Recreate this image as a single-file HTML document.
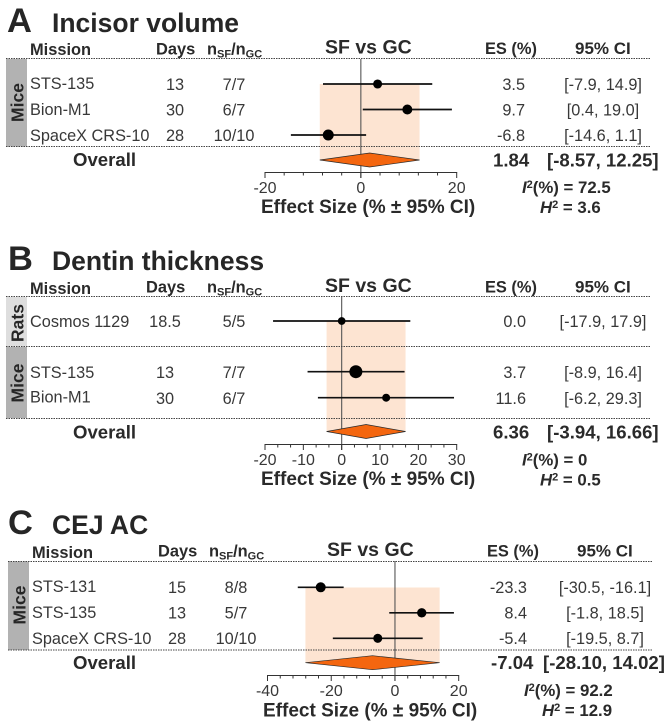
<!DOCTYPE html>
<html lang="en">
<head>
<meta charset="utf-8">
<title>Forest plots: incisor volume, dentin thickness, CEJ AC</title>
<style>
html,body{margin:0;padding:0;background:#fff;width:670px;height:728px;overflow:hidden}
svg{display:block;font-family:"Liberation Sans",Arial,sans-serif;filter:blur(0.3px)}
.title{font-weight:700;font-size:26.5px;fill:#262626}
.letter{font-weight:700;font-size:34.5px;fill:#262626}
.h{font-weight:700;font-size:16.4px;fill:#2a2a2a}
.cih{font-weight:700;font-size:17px;fill:#2a2a2a}
.sf{font-weight:700;font-size:19.5px;fill:#2a2a2a}
.r{font-size:16.3px;fill:#383838}
.m{text-anchor:middle}
.e{text-anchor:end}
.ov{font-weight:700;font-size:18.6px;fill:#2a2a2a}
.axt{font-weight:700;font-size:19px;fill:#2a2a2a}
.ax{font-size:16px;fill:#383838;text-anchor:middle}
.stat{font-weight:700;font-size:16.8px;fill:#2a2a2a}
.grp{font-weight:700;font-size:17.5px;fill:#262626;text-anchor:middle}
.sub{font-size:11px}
</style>
</head>
<body>
<svg id="figure" xmlns="http://www.w3.org/2000/svg" width="670" height="728" viewBox="0 0 670 728">
  <rect x="0" y="0" width="670" height="728" fill="#fff"/>

  <!-- group bands -->
  <rect x="6" y="59" width="21" height="87.5" fill="#b2b2b2"/>
  <rect x="6" y="297" width="21" height="49.5" fill="#dedede"/>
  <rect x="6" y="347" width="21" height="71" fill="#b2b2b2"/>
  <rect x="8" y="561.5" width="21" height="88.5" fill="#b2b2b2"/>

  <g id="marks-layer"></g>

  <!-- Panel A -->
  <text class="letter" x="7" y="32">A</text>
  <text class="title" x="52" y="32">Incisor volume</text>
  <text class="h" x="30" y="55">Mission</text>
  <text class="h" x="156" y="54.5">Days</text>
  <text class="h" x="207" y="54.5">n<tspan class="sub" dy="3">SF</tspan><tspan dy="-3">/n</tspan><tspan class="sub" dy="3">GC</tspan></text>
  <text class="sf" x="325" y="53.5">SF vs GC</text>
  <text class="h" x="485" y="54">ES (%)</text>
  <text class="cih" x="575" y="54">95% CI</text>
  <text class="grp" transform="translate(23.5,102.5) rotate(-90)">Mice</text>
  <text class="r" x="30" y="89">STS-135</text>
  <text class="r m" x="175" y="90">13</text>
  <text class="r m" x="234" y="90">7/7</text>
  <text class="r e" x="525" y="90">3.5</text>
  <text class="r m" x="603" y="90">[-7.9, 14.9]</text>
  <text class="r" x="30" y="115">Bion-M1</text>
  <text class="r m" x="175" y="115.5">30</text>
  <text class="r m" x="234" y="115.5">6/7</text>
  <text class="r e" x="525" y="115.5">9.7</text>
  <text class="r m" x="603" y="115.5">[0.4, 19.0]</text>
  <text class="r" x="30" y="141">SpaceX CRS-10</text>
  <text class="r m" x="175" y="141">28</text>
  <text class="r m" x="234" y="141">10/10</text>
  <text class="r e" x="525" y="141">-6.8</text>
  <text class="r m" x="603" y="141">[-14.6, 1.1]</text>
  <text class="ov" x="73" y="166">Overall</text>
  <text class="ov" x="493" y="166.5">1.84</text>
  <text class="ov" x="547" y="166.5">[-8.57, 12.25]</text>
  <text class="axt" x="261" y="213">Effect Size (% ± 95% CI)</text>
  <text class="stat" x="522" y="193"><tspan font-style="italic">I</tspan><tspan class="sub" dy="-5">2</tspan><tspan dy="5">(%) = 72.5</tspan></text>
  <text class="stat" x="540" y="213"><tspan font-style="italic">H</tspan><tspan class="sub" dy="-5">2</tspan><tspan dy="5"> = 3.6</tspan></text>

  <!-- Panel B -->
  <text class="letter" x="8" y="270">B</text>
  <text class="title" x="52" y="270">Dentin thickness</text>
  <text class="h" x="30" y="294">Mission</text>
  <text class="h" x="146" y="292.5">Days</text>
  <text class="h" x="207" y="292.5">n<tspan class="sub" dy="3">SF</tspan><tspan dy="-3">/n</tspan><tspan class="sub" dy="3">GC</tspan></text>
  <text class="sf" x="325" y="292">SF vs GC</text>
  <text class="h" x="485" y="292.5">ES (%)</text>
  <text class="cih" x="575" y="292.5">95% CI</text>
  <text class="grp" transform="translate(23.5,323) rotate(-90)">Rats</text>
  <text class="grp" transform="translate(23.5,383) rotate(-90)">Mice</text>
  <text class="r" x="30" y="327">Cosmos 1129</text>
  <text class="r m" x="165" y="327">18.5</text>
  <text class="r m" x="234" y="327">5/5</text>
  <text class="r e" x="526" y="327">0.0</text>
  <text class="r m" x="603" y="327">[-17.9, 17.9]</text>
  <text class="r" x="30" y="378">STS-135</text>
  <text class="r m" x="165" y="378">13</text>
  <text class="r m" x="234" y="378">7/7</text>
  <text class="r e" x="526" y="378">3.7</text>
  <text class="r m" x="603" y="378">[-8.9, 16.4]</text>
  <text class="r" x="30" y="402.5">Bion-M1</text>
  <text class="r m" x="165" y="404">30</text>
  <text class="r m" x="234" y="404">6/7</text>
  <text class="r e" x="526" y="404">11.6</text>
  <text class="r m" x="603" y="404">[-6.2, 29.3]</text>
  <text class="ov" x="73" y="438.5">Overall</text>
  <text class="ov" x="493" y="438.5">6.36</text>
  <text class="ov" x="547" y="438.5">[-3.94, 16.66]</text>
  <text class="axt" x="261" y="485">Effect Size (% ± 95% CI)</text>
  <text class="stat" x="522" y="465.5"><tspan font-style="italic">I</tspan><tspan class="sub" dy="-5">2</tspan><tspan dy="5">(%) = 0</tspan></text>
  <text class="stat" x="540" y="485.5"><tspan font-style="italic">H</tspan><tspan class="sub" dy="-5">2</tspan><tspan dy="5"> = 0.5</tspan></text>

  <!-- Panel C -->
  <text class="letter" x="8" y="534">C</text>
  <text class="title" x="52" y="534">CEJ AC</text>
  <text class="h" x="32" y="558">Mission</text>
  <text class="h" x="158" y="556.5">Days</text>
  <text class="h" x="209" y="556.5">n<tspan class="sub" dy="3">SF</tspan><tspan dy="-3">/n</tspan><tspan class="sub" dy="3">GC</tspan></text>
  <text class="sf" x="327" y="556">SF vs GC</text>
  <text class="h" x="487" y="556.5">ES (%)</text>
  <text class="cih" x="577" y="556.5">95% CI</text>
  <text class="grp" transform="translate(25.5,605) rotate(-90)">Mice</text>
  <text class="r" x="32" y="592">STS-131</text>
  <text class="r m" x="177" y="593">15</text>
  <text class="r m" x="236" y="593">8/8</text>
  <text class="r e" x="527" y="593">-23.3</text>
  <text class="r m" x="605" y="593">[-30.5, -16.1]</text>
  <text class="r" x="32" y="618">STS-135</text>
  <text class="r m" x="177" y="618.5">13</text>
  <text class="r m" x="236" y="618.5">5/7</text>
  <text class="r e" x="527" y="618.5">8.4</text>
  <text class="r m" x="605" y="618.5">[-1.8, 18.5]</text>
  <text class="r" x="32" y="644">SpaceX CRS-10</text>
  <text class="r m" x="177" y="644">28</text>
  <text class="r m" x="236" y="644">10/10</text>
  <text class="r e" x="527" y="644">-5.4</text>
  <text class="r m" x="605" y="644">[-19.5, 8.7]</text>
  <text class="ov" x="73" y="669">Overall</text>
  <text class="ov" x="491" y="669">-7.04</text>
  <text class="ov" x="543" y="669">[-28.10, 14.02]</text>
  <text class="axt" x="263" y="716.5">Effect Size (% ± 95% CI)</text>
  <text class="stat" x="524" y="696"><tspan font-style="italic">I</tspan><tspan class="sub" dy="-5">2</tspan><tspan dy="5">(%) = 92.2</tspan></text>
  <text class="stat" x="542" y="716"><tspan font-style="italic">H</tspan><tspan class="sub" dy="-5">2</tspan><tspan dy="5"> = 12.9</tspan></text>
</svg>

<script>
// Panel A: incisor volume
const panelAStudies = ["STS-135", "Bion-M1", "SpaceX CRS-10"];
const panelAEffects = [3.5, 9.7, -6.8];
const panelALower = [-7.9, 0.4, -14.6];
const panelAUpper = [14.9, 19.0, 1.1];
const panelAWeights = [32, 39, 47];
const panelAOverall = [-8.57, 1.84, 12.25];
const panelATicks = [-20, 0, 20];
const panelATickLabels = ["-20", "0", "20"];

// Panel B: dentin thickness
const panelBStudies = ["Cosmos 1129", "STS-135", "Bion-M1"];
const panelBEffects = [0.0, 3.7, 11.6];
const panelBLower = [-17.9, -8.9, -6.2];
const panelBUpper = [17.9, 16.4, 29.3];
const panelBWeights = [23, 66, 25];
const panelBOverall = [-3.94, 6.36, 16.66];
const panelBTicks = [-20, -10, 0, 10, 20, 30];
const panelBTickLabels = ["-20", "-10", "0", "10", "20", "30"];

// Panel C: CEJ AC
const panelCStudies = ["STS-131", "STS-135", "SpaceX CRS-10"];
const panelCEffects = [-23.3, 8.4, -5.4];
const panelCLower = [-30.5, -1.8, -19.5];
const panelCUpper = [-16.1, 18.5, 8.7];
const panelCWeights = [39, 34, 32];
const panelCOverall = [-28.10, -7.04, 14.02];
const panelCTicks = [-40, -20, 0, 20];
const panelCTickLabels = ["-40", "-20", "0", "20"];

const SVG_NS = "http://www.w3.org/2000/svg";
const layer = document.getElementById("marks-layer");

function make(tag, attrs) {
  const el = document.createElementNS(SVG_NS, tag);
  for (const k in attrs) el.setAttribute(k, attrs[k]);
  layer.appendChild(el);
  return el;
}

function slug(s) {
  return s.toLowerCase().replace(/[^a-z0-9]+/g, "-");
}

function drawPanel(p) {
  const span = p.ticks[p.ticks.length - 1] - p.ticks[0];
  const x = v => p.axisLeft + (v - p.ticks[0]) * (p.axisRight - p.axisLeft) / span;
  const [ovLow, ovMid, ovHigh] = p.overall;

  // pooled confidence band
  const band = make("rect", {x: x(ovLow), y: p.bandTop, width: x(ovHigh) - x(ovLow), height: p.overallY - p.bandTop, fill: "#fde4d2"});
  
  

  // zero reference line
  const zero = make("line", {x1: x(0), x2: x(0), y1: p.headerY, y2: p.axisY + 5.5, stroke: "#555", "stroke-width": 1.1});
  
  

  // overall diamond
  const hh = 7;
  const points = [[x(ovLow), p.overallY], [x(ovMid), p.overallY - hh], [x(ovHigh), p.overallY], [x(ovMid), p.overallY + hh]];
  const diamond = make("polygon", {points: points.map(q => q.join(",")).join(" "), fill: "#f4660f", stroke: "#2a2a2a", "stroke-width": 0.7});
  
  

  // study rows
  p.studies.forEach((name, i) => {
    const y = p.rowY(i);
    const ci = make("line", {x1: x(p.lower[i]), x2: x(p.upper[i]), y1: y, y2: y, stroke: "#111", "stroke-width": 1.7});
    
    
    const dot = make("circle", {cx: x(p.effects[i]), cy: y, r: 0.8 * Math.sqrt(p.weights[i]), fill: "#000"});
    
    
  });

  // dashed separators
  p.separators.forEach((y, i) => {
    const sep = make("line", {x1: p.ruleLeft, x2: p.ruleLeft + 644, y1: y, y2: y, stroke: "#444", "stroke-width": 1, "stroke-dasharray": "1.5 1"});
    
    
  });

  // axis
  const axis = make("line", {x1: x(p.ticks[0]) - 0.5, x2: x(p.ticks[p.ticks.length - 1]) + 0.5, y1: p.axisY, y2: p.axisY, stroke: "#333", "stroke-width": 1});
  
  

  p.ticks.forEach((t, i) => {
    const major = make("line", {x1: x(t), x2: x(t), y1: p.axisY, y2: p.axisY + 5.5, stroke: "#333", "stroke-width": 1});
    
    
    const label = make("text", {x: x(t), y: p.axisY + 20.5, class: "ax"});
    label.textContent = p.tickLabels[i];
    
    
    if (i < p.ticks.length - 1) {
      const step = (p.ticks[i + 1] - t) / p.minorDivisions;
      for (let k = 1; k < p.minorDivisions; k++) {
        const minor = make("line", {x1: x(t + k * step), x2: x(t + k * step), y1: p.axisY, y2: p.axisY + 3, stroke: "#333", "stroke-width": 1});
        
        
      }
    }
  });
}

drawPanel({
  id: "panel-a", studies: panelAStudies, effects: panelAEffects, lower: panelALower, upper: panelAUpper,
  weights: panelAWeights, overall: panelAOverall, ticks: panelATicks, tickLabels: panelATickLabels,
  axisLeft: 265, axisRight: 456.7, axisY: 172.5, minorDivisions: 5,
  headerY: 59, bandTop: 84, overallY: 160, ruleLeft: 6, separators: [58.5, 146.5],
  rowY: i => 84 + i * 25.5
});

drawPanel({
  id: "panel-b", studies: panelBStudies, effects: panelBEffects, lower: panelBLower, upper: panelBUpper,
  weights: panelBWeights, overall: panelBOverall, ticks: panelBTicks, tickLabels: panelBTickLabels,
  axisLeft: 265, axisRight: 456.7, axisY: 444.5, minorDivisions: 3,
  headerY: 297, bandTop: 321, overallY: 431.5, ruleLeft: 6, separators: [296.5, 346.5, 418.5],
  rowY: i => i === 0 ? 321 : 371.7 + (i - 1) * 26
});

drawPanel({
  id: "panel-c", studies: panelCStudies, effects: panelCEffects, lower: panelCLower, upper: panelCUpper,
  weights: panelCWeights, overall: panelCOverall, ticks: panelCTicks, tickLabels: panelCTickLabels,
  axisLeft: 267.5, axisRight: 458.7, axisY: 675.5, minorDivisions: 5,
  headerY: 561.5, bandTop: 587.5, overallY: 662.7, ruleLeft: 8, separators: [561.5, 650],
  rowY: i => 587.3 + i * 25.5
});
</script>
</body>
</html>
